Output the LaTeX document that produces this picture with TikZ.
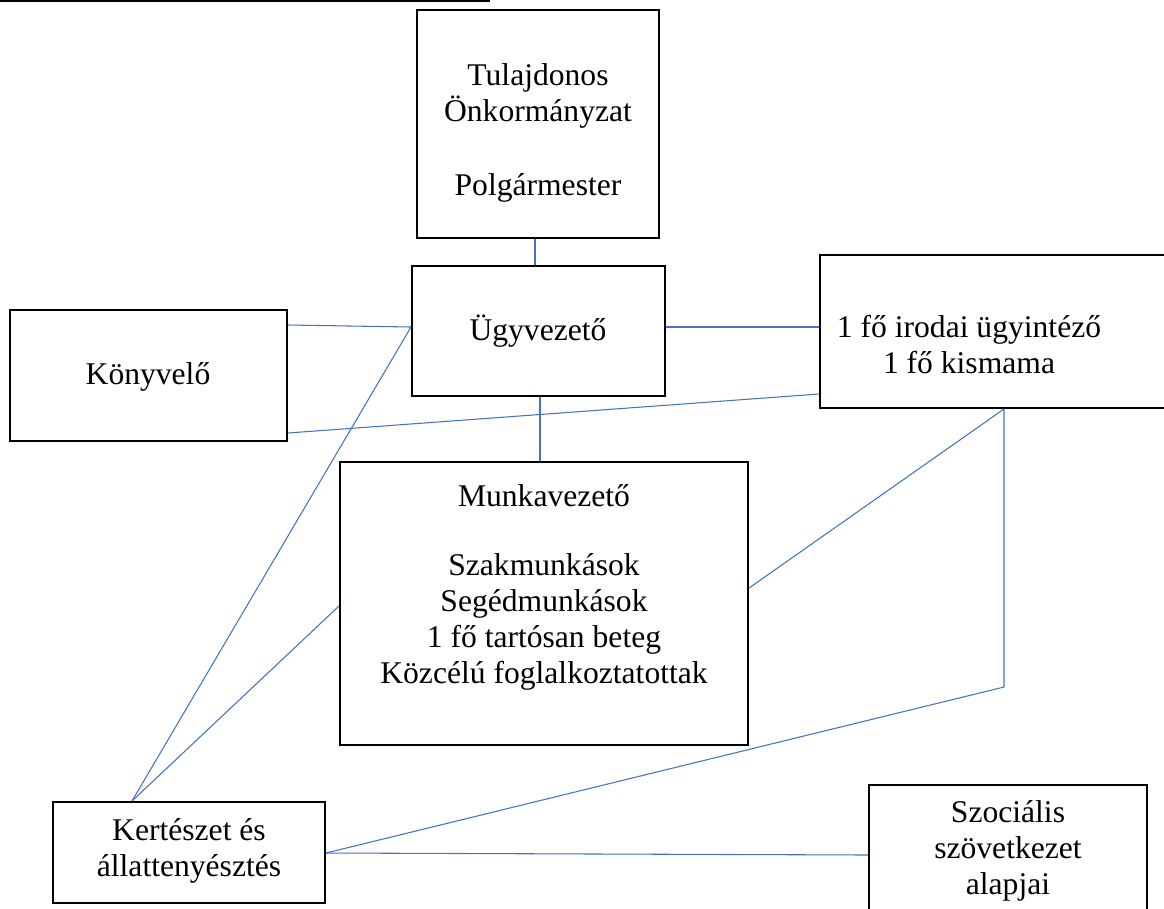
\documentclass[tikz,border=0pt]{standalone}
\usepackage{fontspec}
\setmainfont{Liberation Serif}
\usetikzlibrary{fit}
\definecolor{lineblue}{RGB}{68,114,196}
\tikzset{
  box/.style={draw=black, line width=1.5pt, inner sep=0pt},
  conn/.style={draw=lineblue, line width=0.8pt},
  lbl/.style={align=center, inner sep=0pt, font=\fontsize{23.7}{27}\selectfont}
}
\begin{document}
\begin{tikzpicture}[x=0.75pt,y=-0.75pt]
\useasboundingbox (0,0) rectangle (1164,908);
% cut-off underline at top
\draw[black, line width=1.2pt] (0,1) -- (490,1);
% boxes
\node[box, fit={(417,10)(659,238)}] (top) {};
\node[box, fit={(412,266)(665,396)}] (ugy) {};
\node[box, fit={(10,310)(287,441)}] (kony) {};
\node[box, fit={(820,255)(1180,408)}] (iro) {};
\node[box, fit={(340,462)(748,745)}] (mun) {};
\node[box, fit={(53,802)(325,903)}] (ker) {};
\node[box, fit={(869,785)(1147,925)}] (soc) {};
% texts
\node[lbl] (t1) at (538,96) {Tulajdonos\\Önkormányzat};
\node[lbl] (t2) at (538,188) {Polgármester};
\node[lbl] (t3) at (538,331) {Ügyvezető};
\node[lbl] (t4) at (148,377) {Könyvelő};
\node[lbl] (t5) at (969,345) {1 fő irodai ügyintéző\\1 fő kismama};
\node[lbl] (t6) at (544,496) {Munkavezető};
\node[lbl] (t7) at (544,622) {Szakmunkások\\Segédmunkások\\1 fő tartósan beteg\\Közcélú foglalkoztatottak};
\node[lbl] (t8) at (189,851) {Kertészet és\\állattenyésztés};
\node[lbl] (t9) at (1008,851) {Szociális\\szövetkezet\\alapjai};
% connectors
\coordinate (bend) at (1004,687);
\draw[conn] (535,0 |- top.south) -- (535,0 |- ugy.north);
\draw[conn] (540,0 |- ugy.south) -- (540,0 |- mun.north);
\draw[conn] (kony.east |- 0,325) -- (ugy.west |- 0,327);
\draw[conn] (ugy.east |- 0,327) -- (iro.west |- 0,327);
\draw[conn] (kony.east |- 0,433) -- (iro.west |- 0,394);
\draw[conn] (132,0 |- ker.north) -- (ugy.west |- 0,327);
\draw[conn] (132,0 |- ker.north) -- (mun.west |- 0,606);
\draw[conn] (mun.east |- 0,588) -- (1004,0 |- iro.south);
\draw[conn] (1004,0 |- iro.south) -- (bend) -- (ker.east |- 0,853);
\draw[conn] (ker.east |- 0,853) -- (soc.west |- 0,855);
\end{tikzpicture}
\end{document}
